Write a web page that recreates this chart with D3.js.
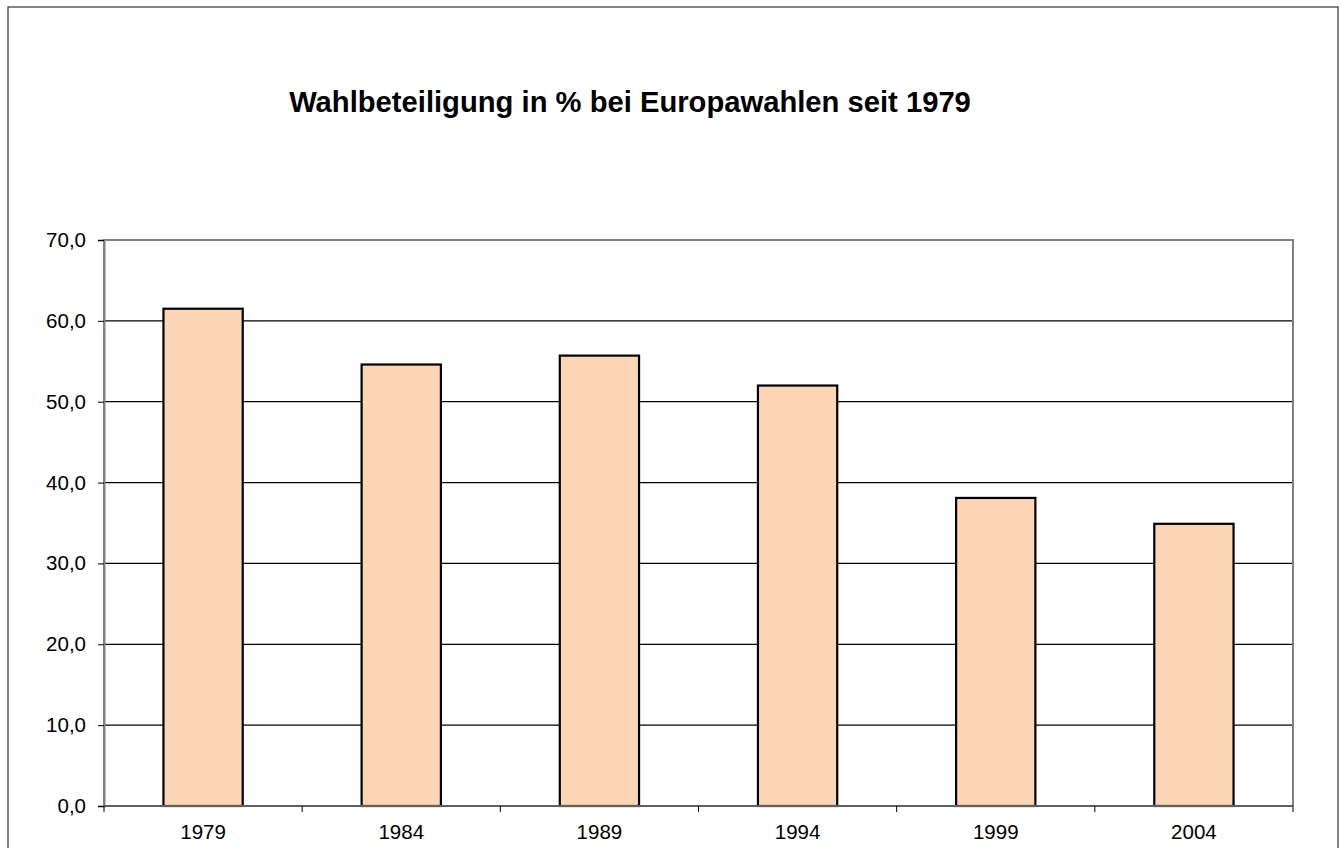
<!DOCTYPE html>
<html>
<head>
<meta charset="utf-8">
<script src="https://cdn.jsdelivr.net/npm/d3@7"></script>
<style>
  body { margin: 0; background: #fff; }
  svg { display: block; font-family: "Liberation Sans", Arial, sans-serif; }
</style>
</head>
<body>
<svg id="chart" width="1341" height="848"></svg>
<script>
// Wahlbeteiligung in % je Europawahl
var years = ["1979", "1984", "1989", "1994", "1999", "2004"];
var turnout = [61.5, 54.6, 55.7, 52.0, 38.1, 34.9];
var yTicks = [0, 10, 20, 30, 40, 50, 60, 70];
var titleText = "Wahlbeteiligung in % bei Europawahlen seit 1979";

var svg = d3.select("#chart");
var plotL = 104, plotR = 1293, plotT = 240, plotB = 806;

var de = d3.formatLocale({decimal: ",", thousands: ".", grouping: [3], currency: ["", " €"]});
var fmt = de.format(".1f");

var x = d3.scaleBand().domain(years).range([plotL, plotR]).paddingInner(0.6).paddingOuter(0.3);
var xb = d3.scaleBand().domain(years).range([plotL, plotR]);
var y = d3.scaleLinear().domain([0, 70]).range([plotB, plotT]);

// outer frame
svg.append("rect").attr("x", 8).attr("y", 7).attr("width", 1330).attr("height", 860)
    .attr("fill", "none").attr("stroke", "#333").attr("stroke-width", 1.2);

svg.append("text").attr("x", 630).attr("y", 112).attr("text-anchor", "middle")
    .attr("font-weight", "bold").attr("font-size", 29.2).text(titleText);

// gridlines
svg.append("g").selectAll("line").data(yTicks.filter(function(d){ return d > 0 && d < 70; }))
    .enter().append("line")
    .attr("x1", plotL).attr("x2", plotR)
    .attr("y1", function(d){ return y(d); }).attr("y2", function(d){ return y(d); })
    .attr("stroke", "#000").attr("stroke-width", 1.2);

// plot frame (left, top, right) in grey
svg.append("path")
    .attr("d", "M" + plotL + "," + plotB + "V" + plotT + "H" + plotR + "V" + plotB)
    .attr("fill", "none").attr("stroke", "#808080").attr("stroke-width", 2);

// bars
svg.append("g").selectAll("rect").data(turnout).enter().append("rect")
    .attr("x", function(d, i){ return x(years[i]); })
    .attr("width", x.bandwidth())
    .attr("y", function(d){ return y(d); })
    .attr("height", function(d){ return plotB - y(d); })
    .attr("fill", "#FCD5B4").attr("stroke", "#000").attr("stroke-width", 2.2);

// y axis
var yAxis = d3.axisLeft(y).tickValues(yTicks).tickFormat(fmt).tickSize(6).tickPadding(12);
var gy = svg.append("g").attr("transform", "translate(" + plotL + ",0)").call(yAxis);
gy.select(".domain").attr("stroke", "#808080").attr("stroke-width", 2);
gy.selectAll(".tick line").attr("stroke", "#000");
gy.selectAll("text").attr("font-size", 20.5).attr("font-family", "Liberation Sans, Arial, sans-serif").attr("fill", "#000");

// x axis: ticks on category boundaries
var gx = svg.append("g").attr("transform", "translate(0," + plotB + ")");
gx.append("line").attr("x1", plotL).attr("x2", plotR).attr("stroke", "#606060").attr("stroke-width", 2);
gx.selectAll("line.tk").data(years.concat(["end"])).enter().append("line").attr("class", "tk")
    .attr("x1", function(d, i){ return i < years.length ? xb(d) : plotR; })
    .attr("x2", function(d, i){ return i < years.length ? xb(d) : plotR; })
    .attr("y1", 0).attr("y2", 6).attr("stroke", "#000");
gx.selectAll("text").data(years).enter().append("text")
    .attr("x", function(d){ return xb(d) + xb.bandwidth() / 2; })
    .attr("y", 33).attr("text-anchor", "middle").attr("font-size", 20.5).text(function(d){ return d; });
</script>
</body>
</html>
